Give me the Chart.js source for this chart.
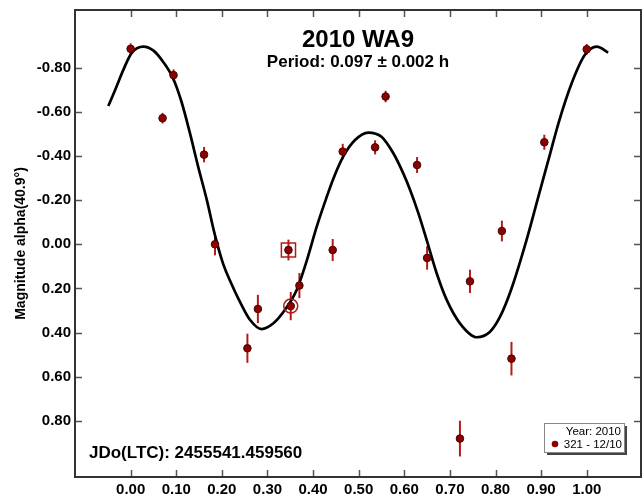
<!DOCTYPE html>
<html>
<head>
<meta charset="utf-8">
<title>2010 WA9 lightcurve</title>
<script src="https://cdn.jsdelivr.net/npm/chart.js@4.4.1/dist/chart.umd.min.js"></script>
<style>
  html, body { margin: 0; padding: 0; background: #fff; }
</style>
</head>
<body>
<canvas id="lc" width="642" height="495"></canvas>
<script>
const phase = [0.000, 0.070, 0.094, 0.161, 0.185, 0.256, 0.279, 0.346, 0.351, 0.370, 0.443,
  0.465, 0.536, 0.559, 0.628, 0.650, 0.722, 0.744, 0.814, 0.835, 0.907, 1.000];
const mag = [-0.885, -0.571, -0.766, -0.406, 0.000, 0.471, 0.293, 0.026, 0.280, 0.187, 0.026,
  -0.420, -0.439, -0.669, -0.359, 0.062, 0.880, 0.168, -0.060, 0.518, -0.462, -0.883];
const magErr = [0.025, 0.024, 0.026, 0.035, 0.050, 0.066, 0.064, 0.047, 0.064, 0.057, 0.050,
  0.035, 0.032, 0.026, 0.036, 0.053, 0.081, 0.053, 0.047, 0.076, 0.034, 0.024];

// fit curve
const fitPhase = [-0.049, -0.034, -0.016, 0.002, 0.028, 0.050, 0.071, 0.093, 0.112, 0.130,
  0.148, 0.167, 0.185, 0.203, 0.218, 0.240, 0.262, 0.287, 0.313, 0.338, 0.364, 0.386,
  0.408, 0.430, 0.444, 0.466, 0.492, 0.521, 0.550, 0.576, 0.598, 0.613, 0.631, 0.649,
  0.671, 0.693, 0.722, 0.759, 0.788, 0.810, 0.834, 0.868, 0.894, 0.920, 0.938, 0.967,
  0.996, 1.022, 1.047];
const fitMag = [-0.626, -0.699, -0.790, -0.866, -0.895, -0.877, -0.827, -0.752, -0.642, -0.503,
  -0.352, -0.201, -0.040, 0.090, 0.165, 0.262, 0.343, 0.384, 0.358, 0.298, 0.207, 0.075,
  -0.080, -0.215, -0.295, -0.397, -0.472, -0.506, -0.487, -0.412, -0.320, -0.245, -0.140, -0.020,
  0.131, 0.252, 0.358, 0.421, 0.396, 0.328, 0.207, -0.019, -0.216, -0.412, -0.548, -0.729,
  -0.858, -0.895, -0.868];

// flagged points
const squarePhase = [0.346];
const squareMag = [0.026];
const circlePhase = [0.351];
const circleMag = [0.280];

const xTicks = [0.0, 0.1, 0.2, 0.3, 0.4, 0.5, 0.6, 0.7, 0.8, 0.9, 1.0];
const yTicks = [-0.8, -0.6, -0.4, -0.2, 0.0, 0.2, 0.4, 0.6, 0.8];
const xRange = [-0.122, 1.119];
const yRange = [-1.061, 1.054];

const titleText = "2010 WA9";
const periodText = "Period: 0.097 \u00b1 0.002 h";
const epochText = "JDo(LTC): 2455541.459560";
const yTitle = "Magnitude alpha(40.9\u00b0)";
const legendYear = "Year: 2010";
const legendSession = "321 - 12/10";

const FONT = '"Liberation Sans", Arial, sans-serif';
const DOT = "#8b0000";
const BAR = "#b31b1b";

Chart.defaults.font.family = FONT;

function pts(xs, ys) {
  return xs.map((v, i) => ({ x: v, y: ys[i] }));
}

// vertical error bars, drawn under the markers
const errorBars = {
  id: "errorBars",
  beforeDatasetsDraw(chart) {
    const { ctx, scales: { x, y } } = chart;
    ctx.save();
    ctx.strokeStyle = BAR;
    ctx.lineWidth = 2;
    phase.forEach((p, i) => {
      const px = x.getPixelForValue(p);
      ctx.beginPath();
      ctx.moveTo(px, y.getPixelForValue(mag[i] - magErr[i]));
      ctx.lineTo(px, y.getPixelForValue(mag[i] + magErr[i]));
      ctx.stroke();
    });
    ctx.restore();
  }
};

// frame, inside ticks, texts and the small legend box
const decorations = {
  id: "decorations",
  afterDraw(chart) {
    const { ctx, chartArea: a, scales: { x, y } } = chart;
    ctx.save();

    ctx.strokeStyle = "#555";
    ctx.lineWidth = 1.5;
    ctx.beginPath();
    xTicks.forEach((v) => {
      const px = Math.round(x.getPixelForValue(v)) + 0.5;
      ctx.moveTo(px, a.top);
      ctx.lineTo(px, a.top + 7);
      ctx.moveTo(px, a.bottom);
      ctx.lineTo(px, a.bottom - 7);
    });
    yTicks.forEach((v) => {
      const py = Math.round(y.getPixelForValue(v)) + 0.5;
      ctx.moveTo(a.left, py);
      ctx.lineTo(a.left + 7, py);
      ctx.moveTo(a.right, py);
      ctx.lineTo(a.right - 7, py);
    });
    ctx.stroke();

    ctx.strokeStyle = "#333";
    ctx.lineWidth = 2;
    ctx.strokeRect(a.left, a.top, a.right - a.left, a.bottom - a.top);

    const cx = (a.left + a.right) / 2;
    ctx.fillStyle = "#000";
    ctx.textAlign = "center";
    ctx.textBaseline = "alphabetic";
    ctx.font = "bold 24px " + FONT;
    ctx.fillText(titleText, cx, a.top + 37);
    ctx.font = "bold 17px " + FONT;
    ctx.fillText(periodText, cx, a.top + 57);

    ctx.textAlign = "left";
    ctx.font = "bold 17px " + FONT;
    ctx.fillText(epochText, a.left + 14, a.bottom - 19);

    // legend box
    const bx = a.right - 97, by = a.bottom - 54, bw = 80, bh = 29;
    ctx.fillStyle = "#444";
    ctx.fillRect(bx + 3, by + 3, bw, bh);
    ctx.fillStyle = "#fff";
    ctx.fillRect(bx, by, bw, bh);
    ctx.strokeStyle = "#888";
    ctx.lineWidth = 1;
    ctx.strokeRect(bx + 0.5, by + 0.5, bw, bh);
    ctx.fillStyle = "#000";
    ctx.font = "11.5px " + FONT;
    ctx.textAlign = "right";
    ctx.fillText(legendYear, bx + bw - 3, by + 12);
    ctx.fillText(legendSession, bx + bw - 2, by + 25);
    ctx.fillStyle = DOT;
    ctx.beginPath();
    ctx.arc(bx + 11, by + 21, 3.3, 0, Math.PI * 2);
    ctx.fill();

    ctx.restore();
  }
};

const tickFont = { size: 15, weight: "bold" };

new Chart(document.getElementById("lc"), {
  type: "scatter",
  data: {
    datasets: [
      {
        label: "fit",
        data: pts(fitPhase, fitMag),
        showLine: true,
        borderColor: "#000",
        borderWidth: 2.7,
        pointRadius: 0,
        cubicInterpolationMode: "monotone",
        order: 3
      },
      {
        label: legendSession,
        data: pts(phase, mag),
        pointRadius: 3.8,
        backgroundColor: DOT,
        borderColor: "#4a0000",
        borderWidth: 1,
        order: 1
      },
      {
        label: "square",
        data: pts(squarePhase, squareMag),
        pointStyle: "rect",
        pointRadius: 10,
        backgroundColor: "rgba(0,0,0,0)",
        borderColor: BAR,
        borderWidth: 1.5,
        order: 0
      },
      {
        label: "circle",
        data: pts(circlePhase, circleMag),
        pointStyle: "circle",
        pointRadius: 7,
        backgroundColor: "rgba(0,0,0,0)",
        borderColor: BAR,
        borderWidth: 1.5,
        order: 0
      }
    ]
  },
  options: {
    responsive: false,
    animation: false,
    layout: { autoPadding: false, padding: { top: 10, right: 1, left: 0, bottom: 0 } },
    plugins: { legend: { display: false }, tooltip: { enabled: false } },
    scales: {
      x: {
        type: "linear",
        min: xRange[0],
        max: xRange[1],
        grid: { display: false, drawTicks: false },
        border: { display: false },
        afterBuildTicks: (s) => { s.ticks = xTicks.map((v) => ({ value: v })); },
        afterFit: (s) => {
          s.height = 18;
          s.paddingLeft = 0;
          s.paddingRight = 0;
        },
        ticks: {
          autoSkip: false,
          maxRotation: 0,
          padding: 4,
          color: "#000",
          font: tickFont,
          callback: (v) => Number(v).toFixed(2)
        }
      },
      y: {
        type: "linear",
        reverse: true,
        min: yRange[0],
        max: yRange[1],
        grid: { display: false, drawTicks: false },
        border: { display: false },
        afterBuildTicks: (s) => { s.ticks = yTicks.map((v) => ({ value: v })); },
        afterFit: (s) => {
          s.width = 75;
          s.paddingTop = 0;
          s.paddingBottom = 0;
        },
        title: {
          display: true,
          text: yTitle,
          color: "#000",
          font: { size: 14, weight: "bold" },
          padding: { top: 13, bottom: 0 }
        },
        ticks: {
          autoSkip: false,
          padding: 4,
          color: "#000",
          font: tickFont,
          callback: (v) => Math.abs(v) < 1e-9 ? "0.00" : Number(v).toFixed(2)
        }
      }
    }
  },
  plugins: [errorBars, decorations]
});
</script>
</body>
</html>
